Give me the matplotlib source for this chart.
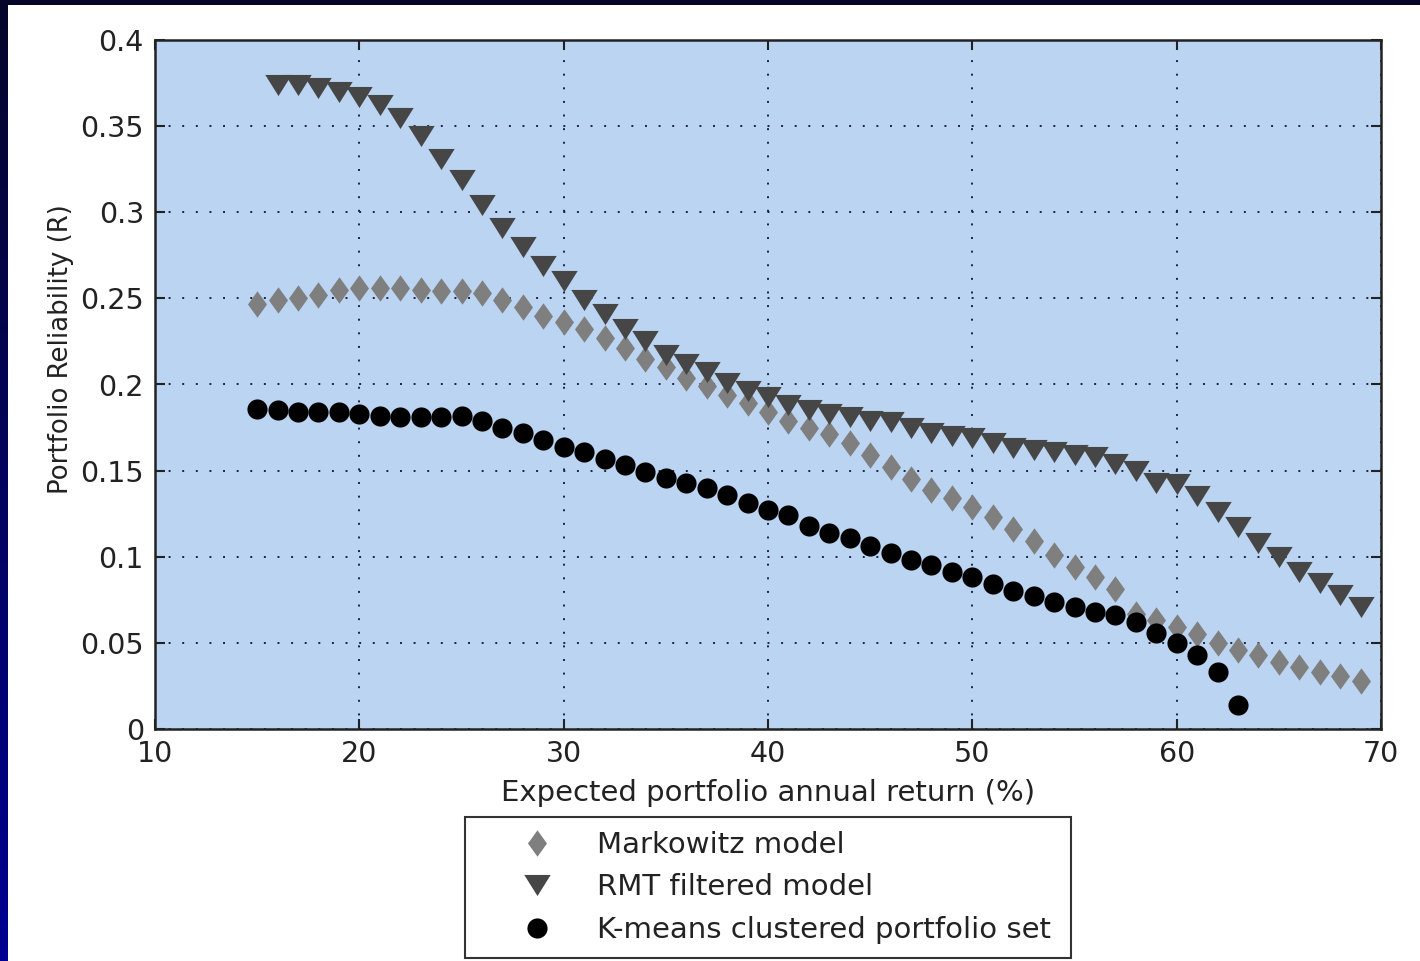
import numpy as np
import matplotlib
matplotlib.use('Agg')
import matplotlib.pyplot as plt
from matplotlib.colors import LinearSegmentedColormap

# expected annual return (%) for each portfolio
x_markowitz = list(range(15, 70))
x_rmt = list(range(16, 70))
x_kmeans = list(range(15, 64))

markowitz = [0.247, 0.249, 0.250, 0.252, 0.255, 0.256, 0.256, 0.256, 0.255, 0.254,
             0.254, 0.253, 0.249, 0.245, 0.240, 0.236, 0.232, 0.227, 0.221, 0.215,
             0.210, 0.204, 0.199, 0.194, 0.189, 0.184, 0.179, 0.175, 0.171, 0.166,
             0.159, 0.152, 0.145, 0.139, 0.134, 0.129, 0.123, 0.116, 0.109, 0.101,
             0.094, 0.088, 0.081, 0.067, 0.063, 0.059, 0.055, 0.050, 0.046, 0.043,
             0.039, 0.036, 0.033, 0.031, 0.028]

rmt = [0.374, 0.374, 0.372, 0.370, 0.367, 0.362, 0.355, 0.344, 0.331, 0.319,
       0.304, 0.291, 0.280, 0.269, 0.260, 0.249, 0.241, 0.232, 0.225, 0.217,
       0.212, 0.207, 0.201, 0.196, 0.193, 0.188, 0.185, 0.183, 0.181, 0.179,
       0.178, 0.175, 0.172, 0.170, 0.169, 0.166, 0.163, 0.162, 0.161, 0.159,
       0.158, 0.154, 0.150, 0.143, 0.142, 0.135, 0.126, 0.117, 0.108, 0.100,
       0.091, 0.085, 0.078, 0.071]

kmeans = [0.186, 0.185, 0.184, 0.184, 0.184, 0.183, 0.182, 0.181, 0.181, 0.181,
          0.182, 0.179, 0.175, 0.172, 0.168, 0.164, 0.161, 0.157, 0.153, 0.149,
          0.146, 0.143, 0.140, 0.136, 0.131, 0.127, 0.124, 0.118, 0.114, 0.111,
          0.106, 0.102, 0.098, 0.095, 0.091, 0.088, 0.084, 0.080, 0.077, 0.074,
          0.071, 0.068, 0.066, 0.062, 0.056, 0.050, 0.043, 0.033, 0.014]

labels = ['Markowitz model', 'RMT filtered model', 'K-means clustered portfolio set']

plt.rcParams['font.family'] = ['DejaVu Sans']

fig = plt.figure(figsize=(14.2, 9.61), dpi=100)
fig.patch.set_facecolor('white')

# slide border: dark band on top and a gradient strip on the left
top = fig.add_axes([0, 1 - 5 / 961, 1, 5 / 961])
top.set_axis_off()
top.add_patch(plt.Rectangle((0, 0), 1, 1, color='#06062a', transform=top.transAxes))
side = fig.add_axes([0, 0, 8 / 1420, 1])
side.set_axis_off()
cmap = LinearSegmentedColormap.from_list('slide', ['#000092', '#06062a'])
side.imshow(np.linspace(0, 1, 256).reshape(-1, 1), aspect='auto', cmap=cmap, origin='lower')

ax = fig.add_axes([155 / 1420, (961 - 729) / 961, (1381 - 155) / 1420, (729 - 40) / 961])
ax.set_facecolor('#bad4f1')

diamond = [(0, 1), (0.72, 0), (0, -1), (-0.72, 0)]
tri = [(-1, 0.8), (1, 0.8), (0, -0.8)]

ax.plot(x_markowitz, markowitz, linestyle='none', marker=diamond, markersize=19,
        color='#7f7f7f', markeredgewidth=0, label=labels[0], zorder=3)
ax.plot(x_rmt, rmt, linestyle='none', marker=tri, markersize=19,
        color='#464646', markeredgewidth=0, label=labels[1], zorder=3)
ax.plot(x_kmeans, kmeans, linestyle='none', marker='o', markersize=14.5,
        color='black', markeredgewidth=0, label=labels[2], zorder=4)

ax.set_xlim(10, 70)
ax.set_ylim(0, 0.4)
ax.set_xticks(range(10, 71, 10))
ax.set_yticks([0, 0.05, 0.1, 0.15, 0.2, 0.25, 0.3, 0.35, 0.4])
ax.set_yticklabels(['0', '0.05', '0.1', '0.15', '0.2', '0.25', '0.3', '0.35', '0.4'])
ax.grid(True, color='#1c2340', linestyle=(0, (1, 6)), linewidth=1.4)
ax.tick_params(direction='in', length=7, width=1.5, top=True, right=True,
               labelsize=20.5, colors='#222222', pad=8)
for s in ax.spines.values():
    s.set_linewidth(1.8)
    s.set_color('#222222')

ax.set_xlabel('Expected portfolio annual return (%)', fontsize=21, color='#222222')
ax.xaxis.set_label_coords(0.5, (729 - 779) / 689)
ax.set_ylabel('Portfolio Reliability (R)', fontsize=18.7, color='#222222')
ax.yaxis.set_label_coords((74 - 155) / 1226, (729 - 349) / 689)

leg = fig.legend(loc='upper left', bbox_to_anchor=(465 / 1420, 4 / 961, 606 / 1420, 140 / 961),
                 mode='expand', borderaxespad=0, fontsize=21, frameon=True, fancybox=False,
                 labelspacing=0.5, handletextpad=0.05, borderpad=0.47, handlelength=4.0)
leg.get_frame().set_edgecolor('black')
leg.get_frame().set_linewidth(1.5)
for t in leg.get_texts():
    t.set_color('#222222')

fig.savefig('out.png', dpi=100)
